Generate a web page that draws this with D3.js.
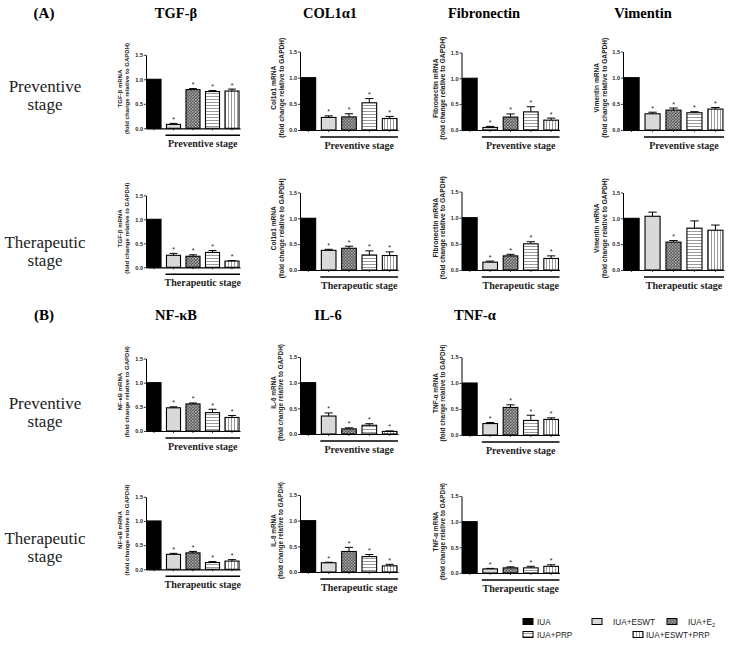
<!DOCTYPE html>
<html><head><meta charset="utf-8">
<script src="https://cdn.jsdelivr.net/npm/d3@7"></script>
<style>body{margin:0;background:#fff}svg{display:block}</style>
</head><body>
<script>
// ---------- data ----------
const categories = ["IUA","IUA+ESWT","IUA+E2","IUA+PRP","IUA+ESWT+PRP"];
const yTicks = [0, 0.5, 1.0, 1.5];
const tickLabels = ["0.0","0.5","1.0","1.5"];
const stageNames = ["Preventive stage","Therapeutic stage"];

const tgfPrev = [1.00,0.08,0.79,0.75,0.76];
const tgfPrevErr = [0,0.02,0.02,0.02,0.04];
const colPrev = [1.00,0.24,0.25,0.52,0.22];
const colPrevErr = [0,0.03,0.06,0.08,0.04];
const fibPrev = [1.00,0.05,0.25,0.35,0.19];
const fibPrevErr = [0,0.02,0.06,0.10,0.04];
const vimPrev = [1.00,0.31,0.38,0.33,0.40];
const vimPrevErr = [0,0.03,0.04,0.02,0.03];

const tgfTher = [1.00,0.25,0.23,0.31,0.13];
const tgfTherErr = [0,0.04,0.03,0.04,0.01];
const colTher = [1.00,0.38,0.42,0.29,0.28];
const colTherErr = [0,0.02,0.04,0.08,0.07];
const fibTher = [1.00,0.15,0.27,0.50,0.22];
const fibTherErr = [0,0.02,0.03,0.04,0.05];
const vimTher = [1.00,1.04,0.54,0.81,0.77];
const vimTherErr = [0,0.08,0.03,0.14,0.10];

const nfkbPrev = [1.00,0.48,0.56,0.38,0.28];
const nfkbPrevErr = [0,0.02,0.02,0.07,0.04];
const il6Prev = [1.00,0.35,0.10,0.17,0.05];
const il6PrevErr = [0,0.06,0.02,0.03,0.01];
const tnfPrev = [1.00,0.22,0.53,0.28,0.30];
const tnfPrevErr = [0,0.02,0.05,0.10,0.03];

const nfkbTher = [1.00,0.31,0.34,0.14,0.17];
const nfkbTherErr = [0,0.02,0.03,0.02,0.03];
const il6Ther = [1.00,0.18,0.40,0.30,0.12];
const il6TherErr = [0,0.01,0.08,0.04,0.03];
const tnfTher = [1.00,0.08,0.10,0.10,0.13];
const tnfTherErr = [0,0.01,0.02,0.03,0.03];

const starsAll = [0,1,1,1,1];
const starsVimTher = [0,0,1,0,0];

const titlesA = ["TGF-β","COL1α1","Fibronectin","Vimentin"];
const titlesB = ["NF-κB","IL-6","TNF-α"];
const yLabels = ["TGF-β mRNA","Col1α1 mRNA","Fibronectin mRNA","Vimentin mRNA","NF-κB mRNA","IL-6 mRNA","TNF-α mRNA"];
const yLabel2 = "(fold change relative to GAPDH)";

// ---------- layout ----------
const W = 732, H = 647;
const svg = d3.select("body").append("svg").attr("width", W).attr("height", H);
const defs = svg.append("defs");

// patterns
const pCheck = defs.append("pattern").attr("id","pCheck").attr("patternUnits","userSpaceOnUse").attr("width",3).attr("height",3);
pCheck.append("rect").attr("width",3).attr("height",3).attr("fill","#5a5a5a");
pCheck.append("rect").attr("x",0).attr("y",0).attr("width",1.5).attr("height",1.5).attr("fill","#b0b0b0");
pCheck.append("rect").attr("x",1.5).attr("y",1.5).attr("width",1.5).attr("height",1.5).attr("fill","#9a9a9a");
const pH = defs.append("pattern").attr("id","pH").attr("patternUnits","userSpaceOnUse").attr("width",4).attr("height",3);
pH.append("rect").attr("width",4).attr("height",3).attr("fill","#fff");
pH.append("rect").attr("y",0).attr("width",4).attr("height",1).attr("fill","#9a9a9a");
const pV = defs.append("pattern").attr("id","pV").attr("patternUnits","userSpaceOnUse").attr("width",3).attr("height",4);
pV.append("rect").attr("width",3).attr("height",4).attr("fill","#fff");
pV.append("rect").attr("x",0).attr("width",1).attr("height",4).attr("fill","#9a9a9a");

const fills = ["#000","#d9d9d9","url(#pCheck)","url(#pH)","url(#pV)"];

const sansF = "'Liberation Sans', Arial, sans-serif";
const serifF = "'Liberation Serif', 'Times New Roman', serif";

const panels = [
  {v:tgfPrev, e:tgfPrevErr, s:starsAll, lab:0, st:0, ax:146, w:94, y0:128.3, y15:54.8, fs:6},
  {v:colPrev, e:colPrevErr, s:starsAll, lab:1, st:0, ax:300, w:98, y0:130, y15:51.5, fs:6.6},
  {v:fibPrev, e:fibPrevErr, s:starsAll, lab:2, st:0, ax:461.5, w:98, y0:130, y15:52.4, fs:6.8},
  {v:vimPrev, e:vimPrevErr, s:starsAll, lab:3, st:0, ax:623, w:101, y0:130, y15:51.5, fs:6.6},
  {v:tgfTher, e:tgfTherErr, s:starsAll, lab:0, st:1, ax:146, w:94, y0:267.3, y15:195.3, fs:6},
  {v:colTher, e:colTherErr, s:starsAll, lab:1, st:1, ax:300, w:98, y0:270, y15:192.4, fs:6.6},
  {v:fibTher, e:fibTherErr, s:starsAll, lab:2, st:1, ax:461.5, w:98, y0:270, y15:191.5, fs:6.8},
  {v:vimTher, e:vimTherErr, s:starsVimTher, lab:3, st:1, ax:623, w:101, y0:270, y15:192.5, fs:6.6},
  {v:nfkbPrev, e:nfkbPrevErr, s:starsAll, lab:4, st:0, ax:146, w:94, y0:431, y15:358.5, fs:6},
  {v:il6Prev, e:il6PrevErr, s:starsAll, lab:5, st:0, ax:300, w:98, y0:434, y15:357, fs:6.4},
  {v:tnfPrev, e:tnfPrevErr, s:starsAll, lab:6, st:0, ax:461.5, w:98, y0:435, y15:357, fs:6.4},
  {v:nfkbTher, e:nfkbTherErr, s:starsAll, lab:4, st:1, ax:146, w:94, y0:569.3, y15:496.8, fs:6},
  {v:il6Ther, e:il6TherErr, s:starsAll, lab:5, st:1, ax:300, w:98, y0:572, y15:495, fs:6.4},
  {v:tnfTher, e:tnfTherErr, s:starsAll, lab:6, st:1, ax:461.5, w:98, y0:573, y15:496, fs:6.4}
];

panels.forEach(p => {
  const g = svg.append("g");
  const y = d3.scaleLinear().domain([0,1.5]).range([p.y0, p.y15]);
  const x = d3.scaleBand().domain(categories).range([p.ax, p.ax + p.w]).paddingInner(0.28).paddingOuter(0.05);
  const bw = x.bandwidth();

  // y axis
  const ya = g.append("g").attr("transform", `translate(${p.ax},0)`)
    .call(d3.axisLeft(y).tickValues(yTicks).tickFormat((d,i)=>tickLabels[i]).tickSize(2).tickSizeOuter(0).tickPadding(1));
  ya.select(".domain").attr("stroke","#000").attr("stroke-width",1);
  ya.selectAll(".tick line").attr("stroke","#000").attr("stroke-width",0.8);
  ya.selectAll(".tick text").attr("font-family",sansF).attr("font-size",5.5).attr("font-weight","bold").attr("fill","#222");

  // x axis
  const xa = g.append("g").attr("transform", `translate(0,${p.y0})`)
    .call(d3.axisBottom(x).tickSize(2).tickSizeOuter(0).tickFormat(""));
  xa.select(".domain").attr("stroke","#000").attr("stroke-width",1.2);
  xa.selectAll(".tick line").attr("stroke","#000").attr("stroke-width",0.8);

  // bars
  g.selectAll("rect.bar").data(categories).join("rect").attr("class","bar")
    .attr("x", d => x(d)).attr("width", bw)
    .attr("y", (d,i) => y(p.v[i])).attr("height", (d,i) => y(0) - y(p.v[i]))
    .attr("fill", (d,i) => fills[i]).attr("stroke","#000").attr("stroke-width",1.1);

  // error bars (upper)
  categories.forEach((c,i) => {
    if (p.e[i] <= 0) return;
    const cx = x(c) + bw/2;
    g.append("line").attr("x1",cx).attr("x2",cx).attr("y1",y(p.v[i])).attr("y2",y(p.v[i]+p.e[i])).attr("stroke","#000").attr("stroke-width",1);
    g.append("line").attr("x1",cx-bw*0.28).attr("x2",cx+bw*0.28).attr("y1",y(p.v[i]+p.e[i])).attr("y2",y(p.v[i]+p.e[i])).attr("stroke","#000").attr("stroke-width",1);
  });
  // stars
  categories.forEach((c,i) => {
    if (!p.s[i]) return;
    g.append("text").attr("x", x(c)+bw/2).attr("y", y(p.v[i]+p.e[i]) - 1.5)
      .attr("text-anchor","middle").attr("font-family",sansF).attr("font-size",7).attr("fill","#222").text("*");
  });

  // stage underline + label
  const ux1 = x(categories[1]) - 1, ux2 = x(categories[4]) + bw + 1;
  g.append("line").attr("x1",ux1).attr("x2",ux2).attr("y1",p.y0+7).attr("y2",p.y0+7).attr("stroke","#000").attr("stroke-width",1.4);
  g.append("text").attr("x",(ux1+ux2)/2).attr("y",p.y0+19).attr("text-anchor","middle")
    .attr("font-family",serifF).attr("font-size",10).attr("font-weight","bold").attr("fill","#222").text(stageNames[p.st]);

  // y label
  const ym = (p.y0 + p.y15)/2 - 3;
  const lt = g.append("text").attr("transform",`translate(${p.ax-24},${ym}) rotate(-90)`)
    .attr("text-anchor","middle").attr("font-family",sansF).attr("font-size",p.fs).attr("font-weight","bold").attr("fill","#222");
  lt.append("tspan").attr("x",0).attr("dy",0).text(yLabels[p.lab]);
  lt.append("tspan").attr("x",0).attr("dy",p.fs*1.15).text(yLabel2);
});

// titles
const titleXA = [176, 330, 484, 643];
titlesA.forEach((t,i) => svg.append("text").attr("x",titleXA[i]).attr("y",18).attr("text-anchor","middle")
  .attr("font-family",serifF).attr("font-size",14.5).attr("font-weight","bold").text(t));
const titleXB = [176, 328, 475];
titlesB.forEach((t,i) => svg.append("text").attr("x",titleXB[i]).attr("y",320).attr("text-anchor","middle")
  .attr("font-family",serifF).attr("font-size",14.5).attr("font-weight","bold").text(t));
svg.append("text").attr("x",44).attr("y",18).attr("text-anchor","middle").attr("font-family",serifF).attr("font-size",15).attr("font-weight","bold").text("(A)");
svg.append("text").attr("x",44).attr("y",320).attr("text-anchor","middle").attr("font-family",serifF).attr("font-size",15).attr("font-weight","bold").text("(B)");

// row labels
const rowLab = [
  ["Preventive", 92, 110],
  ["Therapeutic", 248, 266],
  ["Preventive", 409, 427],
  ["Therapeutic", 544, 562]
];
rowLab.forEach(r => {
  svg.append("text").attr("x",45).attr("y",r[1]).attr("text-anchor","middle").attr("font-family",serifF).attr("font-size",17).attr("fill","#222").text(r[0]);
  svg.append("text").attr("x",45).attr("y",r[2]).attr("text-anchor","middle").attr("font-family",serifF).attr("font-size",17).attr("fill","#222").text("stage");
});

// legend
const legItems = [
  {i:0, bx:523, tx:537, y:621.5},
  {i:1, bx:592, tx:613, y:621.5},
  {i:2, bx:667, tx:688, y:621.5},
  {i:3, bx:523, tx:537, y:634.5},
  {i:4, bx:633, tx:646, y:634.5}
];
legItems.forEach(l => {
  svg.append("rect").attr("x",l.bx).attr("y",l.y-3).attr("width",10).attr("height",6)
    .attr("fill",fills[l.i]).attr("stroke","#000").attr("stroke-width",1);
  const t = svg.append("text").attr("x",l.tx).attr("y",l.y+3).attr("font-family",sansF).attr("font-size",8.2).attr("fill","#222");
  if (categories[l.i] === "IUA+E2") {
    t.append("tspan").text("IUA+E");
    t.append("tspan").attr("font-size",5.5).attr("dy",2).text("2");
  } else t.text(categories[l.i]);
});
</script>
</body></html>
